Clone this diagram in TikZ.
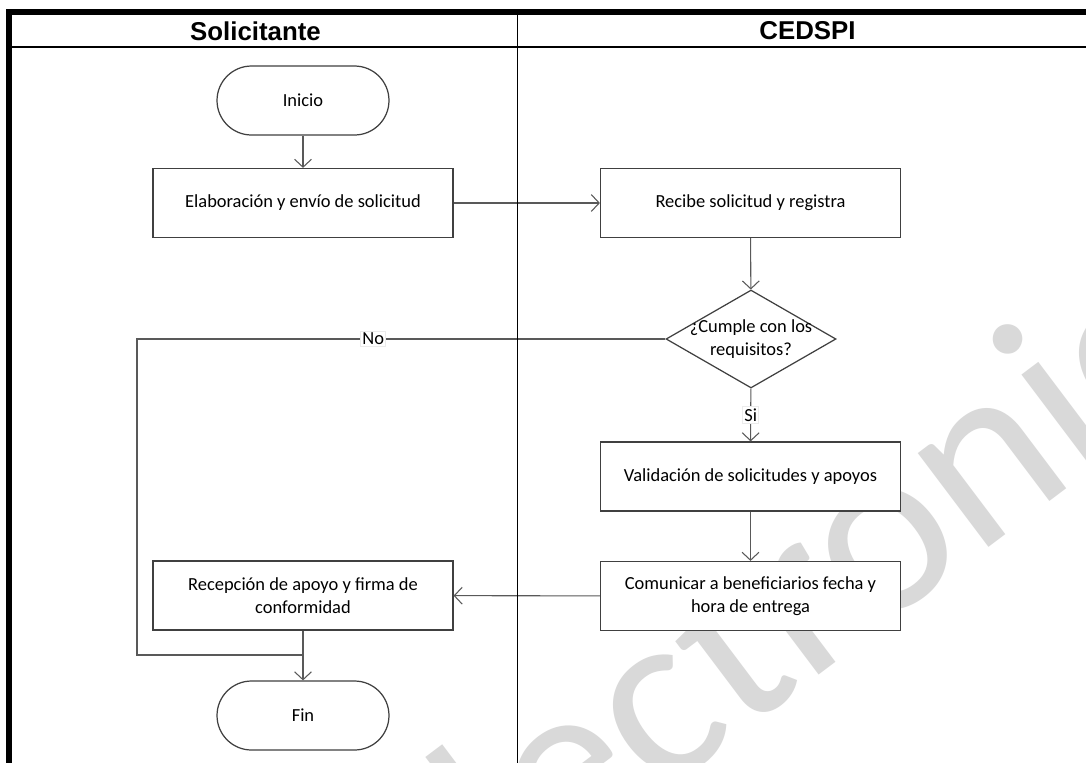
\documentclass[tikz,border=0pt]{standalone}
\usepackage{fontspec}
\setmainfont{Carlito}
\newfontfamily\headfont{Liberation Sans}
\usetikzlibrary{shapes.geometric,arrows.meta}
\begin{document}
\begin{tikzpicture}[x=0.02cm,y=-0.02cm,
    box/.style={draw=black!75,fill=white,line width=0.7pt,minimum width=6cm,minimum height=1.38cm,align=center,font=\fontsize{10.5}{13}\selectfont,inner sep=2pt},
    term/.style={box,minimum width=3.44cm,rounded corners=0.69cm},
    decision/.style={draw=black!75,fill=white,line width=0.7pt,diamond,minimum width=3.4cm,minimum height=1.96cm,inner sep=0pt},
    line/.style={draw=black!65,line width=0.6pt},
    flow/.style={line,-{Straight Barb[length=4.5pt,width=9.6pt]}},
    lane/.style={font=\headfont\bfseries\fontsize{14.7}{17}\selectfont},
    answer/.style={fill=white,draw=black!8,inner sep=1pt,font=\fontsize{10.5}{12}\selectfont}]
  \clip (0,0) rectangle (1086,762);
  \fill[white] (0,0) rectangle (1086,762);
  % marca de agua
  \node[rotate=37,text=black!15,font=\fontsize{140}{140}\selectfont] (marca) at (812,575) {electrónico};
  % carriles
  \node[lane] (solic) at (255.5,31) {Solicitante};
  \node[lane] (cedspi) at (807.5,31) {CEDSPI};
  % pasos
  \node[term] (inicio) at (303,100.5) {Inicio};
  \node[box] (elab) at (303,203) {Elaboración y envío de solicitud};
  \node[box] (recibe) at (750.5,203) {Recibe solicitud y registra};
  \node[decision] (cumple) at (751,339) {};
  \node[align=center,font=\fontsize{10.5}{13}\selectfont] (pregunta) at (751,339) {¿Cumple con los\\requisitos?};
  \node[box] (valida) at (750.5,476.5) {Validación de solicitudes y apoyos};
  \node[box] (comunica) at (750.5,596) {Comunicar a beneficiarios fecha y\\hora de entrega};
  \node[box] (recep) at (303,595.5) {Recepción de apoyo y firma de\\conformidad};
  \node[term] (fin) at (303,715.5) {Fin};
  \coordinate (esquina) at (137,339);
  \coordinate (union) at (303,655);
  % conectores
  \draw[flow] (inicio) -- (elab);
  \draw[flow] (elab) -- (recibe);
  \draw[flow] (recibe) -- (cumple);
  \draw[flow] (cumple) -- node[answer] {Si} (valida);
  \draw[flow] (valida) -- (comunica);
  \draw[flow] (comunica) -- (recep);
  \draw[flow] (recep) -- (fin);
  \draw[line] (cumple) -- node[answer,pos=0.553] {No} (esquina) |- (union);
  % marco
  \draw[line width=1.1pt] (517.5,12.2) -- (517.5,770);
  \draw[line width=1.5pt] (8.7,47) -- (1100,47);
  \draw[line width=3.3pt] (8.7,770) -- (8.7,12.2) -- (1100,12.2);
\end{tikzpicture}
\end{document}
